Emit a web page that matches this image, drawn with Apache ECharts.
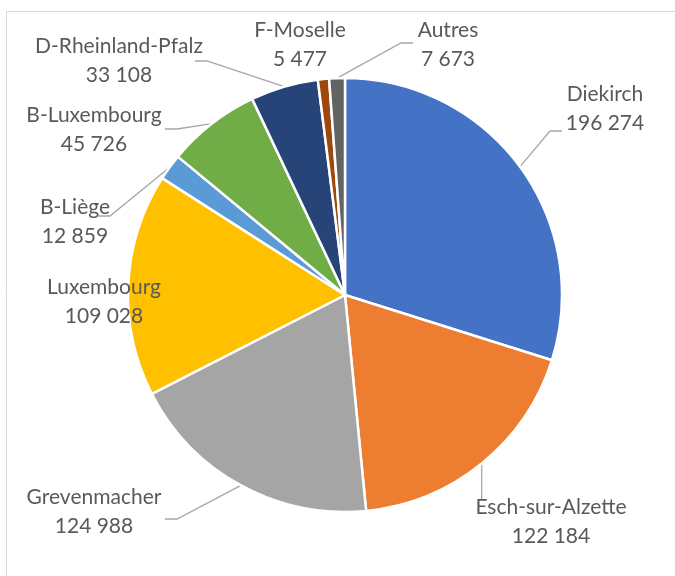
<!DOCTYPE html>
<html lang="fr">
<head>
    <meta charset="utf-8">
    <title>Frontaliers par région</title>
    <script src="https://cdn.jsdelivr.net/npm/echarts@6/dist/echarts.min.js"></script>
    <style>
        html, body { margin: 0; padding: 0; background: #fff; }
        #chart { width: 675px; height: 576px; }
    </style>
</head>
<body>
    <div id="chart"></div>

    <script>
        // data
        var regions = ['Diekirch', 'Esch-sur-Alzette', 'Grevenmacher', 'Luxembourg', 'B-Liège',
                       'B-Luxembourg', 'D-Rheinland-Pfalz', 'F-Moselle', 'Autres'];
        var counts = [196274, 122184, 124988, 109028, 12859, 45726, 33108, 5477, 7673];

        // office-like palette
        var colors = ['#4472C4', '#ED7D31', '#A5A5A5', '#FFC000', '#5B9BD5',
                      '#70AD47', '#264478', '#9E480E', '#636363'];

        // where each label block sits: [centre x, centre y, line end x, line end y] (null end = no line)
        var labelSpots = [
            [605, 109, 562, 131],
            [551, 522, null, 500],
            [94, 512, 165, 519],
            [104, 302, null, null],
            [75, 222, 98, 216],
            [94, 130, 165, 129],
            [119, 61, 195, 61],
            [300, 45, null, null],
            [448, 45, 413, 43]
        ];

        function fmt(v) {
            return String(v).replace(/\B(?=(\d{3})+(?!\d))/g, ' ');
        }

        var pieData = regions.map(function (n, i) {
            var spot = labelSpots[i];
            return {
                name: n,
                value: counts[i],
                itemStyle: { color: colors[i] },
                labelLine: { show: spot[3] != null }
            };
        });

        var chart = echarts.init(document.getElementById('chart'), null, { renderer: 'canvas' });

        chart.setOption({
            animation: false,
            backgroundColor: '#fff',
            graphic: [{
                type: 'rect',
                silent: true,
                shape: { x: 6.5, y: 11.5, width: 700, height: 600 },
                style: { fill: 'none', stroke: '#D9D9D9', lineWidth: 1 }
            }],
            series: [{
                type: 'pie',
                center: [345, 295],
                radius: 217,
                startAngle: 90,
                clockwise: true,
                avoidLabelOverlap: false,
                itemStyle: { borderColor: '#fff', borderWidth: 2.5 },
                emphasis: { disabled: true },
                label: {
                    show: true,
                    position: 'outside',
                    formatter: function (p) { return p.name + '\n' + fmt(p.value); },
                    fontFamily: 'Lato',
                    fontSize: 21,
                    lineHeight: 29,
                    color: '#595959',
                    align: 'center'
                },
                labelLine: {
                    show: true,
                    lineStyle: { color: '#A6A6A6', width: 1.3 }
                },
                labelLayout: function (params) {
                    var s = labelSpots[params.dataIndex];
                    var out = { x: s[0], y: s[1], align: 'center', verticalAlign: 'middle' };
                    var pts = params.labelLinePoints;
                    if (pts && s[3] != null) {
                        var p0 = pts[0];
                        if (s[2] == null) {
                            // straight drop onto the label
                            out.labelLinePoints = [p0, [p0[0], s[3]], [p0[0], s[3]]];
                        } else {
                            var dir = p0[0] > s[2] ? 1 : -1;
                            out.labelLinePoints = [p0, [s[2] + dir * 12, s[3]], [s[2], s[3]]];
                        }
                    }
                    return out;
                },
                data: pieData
            }]
        });
    </script>
</body>
</html>
